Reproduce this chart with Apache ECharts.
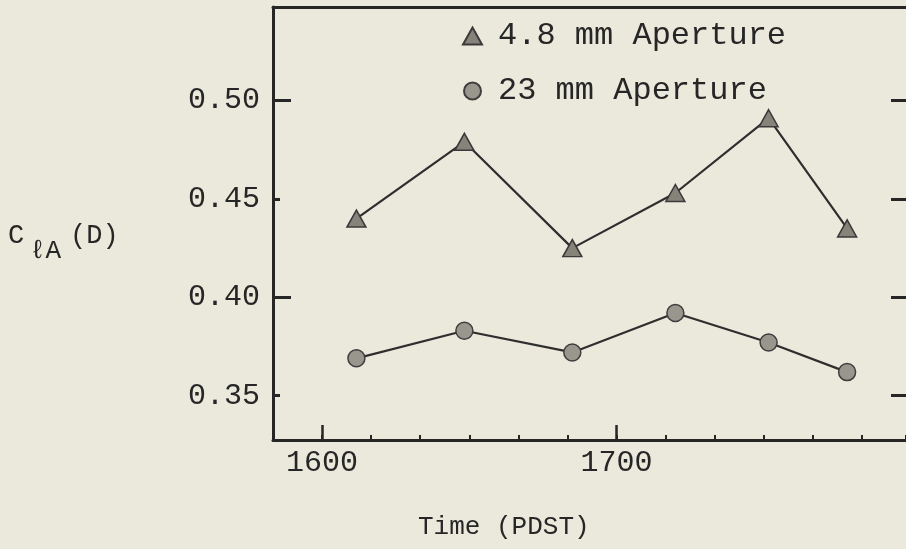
<!DOCTYPE html>
<html>
<head>
<meta charset="utf-8">
<script src="https://cdn.jsdelivr.net/npm/echarts@6/dist/echarts.min.js"></script>
<style>
html,body{margin:0;padding:0;background:#ebe9dc;}
#c{width:906px;height:549px;}
</style>
</head>
<body>
<div id="c"></div>
<script>
// ---- data ----
const times = [1607, 1629, 1651, 1712, 1731, 1747];          // PDST, hhmm
const aperture48 = [0.440, 0.479, 0.425, 0.453, 0.491, 0.435]; // 4.8 mm Aperture
const aperture23 = [0.369, 0.383, 0.372, 0.392, 0.377, 0.362]; // 23 mm Aperture
const seriesNames = ['4.8 mm Aperture', '23 mm Aperture'];
const yTickValues = [0.35, 0.40, 0.45, 0.50];
const xTickLabels = ['1600', '1700'];
const xMinLabel = '1550';
const xMaxLabel = '1759';   // right frame is cut off at the picture edge

// ---- helpers ----
const toMin = hhmm => Math.floor(hhmm / 100) * 60 + (hhmm % 100);
const toHHMM = m => String(Math.floor(m / 60) * 100 + (m % 60));
const xTickValues = xTickLabels.map(s => toMin(+s));

const ink = '#262626';
const font = '"Liberation Mono", "DejaVu Sans Mono", monospace';

const chart = echarts.init(document.getElementById('c'), null, {renderer: 'canvas'});
chart.setOption({
  backgroundColor: '#ebe9dc',
  animation: false,
  grid: {left: 273, right: 0, top: 7, bottom: 109},
  legend: {
    orient: 'vertical',
    left: 457, top: 15,
    itemWidth: 19, itemHeight: 17, itemGap: 23,
    textStyle: {fontFamily: font, fontSize: 32, color: ink, lineHeight: 32, padding: [0, 0, 0, 11]},
    data: [
      {name: seriesNames[0], icon: 'triangle'},
      {name: seriesNames[1], icon: 'circle'}
    ]
  },
  xAxis: [
    {
      type: 'value', position: 'bottom',
      min: toMin(+xMinLabel), max: toMin(+xMaxLabel), interval: 10,
      axisLine: {show: true, lineStyle: {color: ink, width: 3}},
      axisTick: {show: true, inside: true, length: 5, lineStyle: {color: ink, width: 2}},
      axisLabel: {
        customValues: xTickValues, margin: 8,
        fontFamily: font, fontSize: 30, color: ink,
        formatter: v => toHHMM(v)
      },
      splitLine: {show: false}
    },
    {
      type: 'value', position: 'bottom',
      min: toMin(+xMinLabel), max: toMin(+xMaxLabel),
      axisLine: {show: false},
      axisTick: {show: true, inside: true, length: 15, customValues: xTickValues, lineStyle: {color: ink, width: 2.5}},
      axisLabel: {show: false},
      splitLine: {show: false}
    },
    {
      type: 'value', position: 'top',
      min: toMin(+xMinLabel), max: toMin(+xMaxLabel),
      axisLine: {show: true, lineStyle: {color: ink, width: 3}},
      axisTick: {show: false}, axisLabel: {show: false}, splitLine: {show: false}
    }
  ],
  yAxis: [
    {
      type: 'value', position: 'left',
      min: 0.3275, max: 0.5475,
      axisLine: {show: true, lineStyle: {color: ink, width: 3}},
      axisTick: {show: true, inside: true, length: 18, customValues: [0.40, 0.50], lineStyle: {color: ink, width: 3}},
      axisLabel: {
        customValues: yTickValues, margin: 13,
        fontFamily: font, fontSize: 30, color: ink,
        formatter: v => v.toFixed(2)
      },
      splitLine: {show: false}
    },
    {
      type: 'value', position: 'left',
      min: 0.3275, max: 0.5475,
      axisLine: {show: false},
      axisTick: {show: true, inside: true, length: 7, customValues: [0.35, 0.45], lineStyle: {color: ink, width: 3}},
      axisLabel: {show: false}, splitLine: {show: false}
    },
    {
      type: 'value', position: 'right',
      min: 0.3275, max: 0.5475,
      axisLine: {show: false},
      axisTick: {show: true, inside: true, length: 15, customValues: yTickValues, lineStyle: {color: ink, width: 3}},
      axisLabel: {show: false}, splitLine: {show: false}
    }
  ],
  series: [
    {
      name: seriesNames[0], type: 'line',
      xAxisIndex: 0, yAxisIndex: 0,
      data: times.map((t, i) => [toMin(t), aperture48[i]]),
      symbol: 'triangle', symbolSize: [19, 17],
      lineStyle: {color: '#2e2e2e', width: 2.2},
      itemStyle: {color: '#85837a', borderColor: '#3a3a3a', borderWidth: 1.5}
    },
    {
      name: seriesNames[1], type: 'line',
      xAxisIndex: 0, yAxisIndex: 0,
      data: times.map((t, i) => [toMin(t), aperture23[i]]),
      symbol: 'circle', symbolSize: 17,
      lineStyle: {color: '#2e2e2e', width: 2.2},
      itemStyle: {color: '#98968d', borderColor: '#3e3e3e', borderWidth: 1.5}
    }
  ],
  graphic: [
    {type: 'text', left: 8, top: 222, style: {text: 'C', font: '27px ' + font, fill: ink}},
    {type: 'text', left: 30, top: 238, style: {text: 'ℓA', font: '26px ' + font, fill: ink}},
    {type: 'text', left: 70, top: 222, style: {text: '(D)', font: '27px ' + font, fill: ink}},
    {type: 'text', left: 418, top: 514, style: {text: 'Time (PDST)', font: '26px ' + font, fill: ink}}
  ]
});
</script>
</body>
</html>
